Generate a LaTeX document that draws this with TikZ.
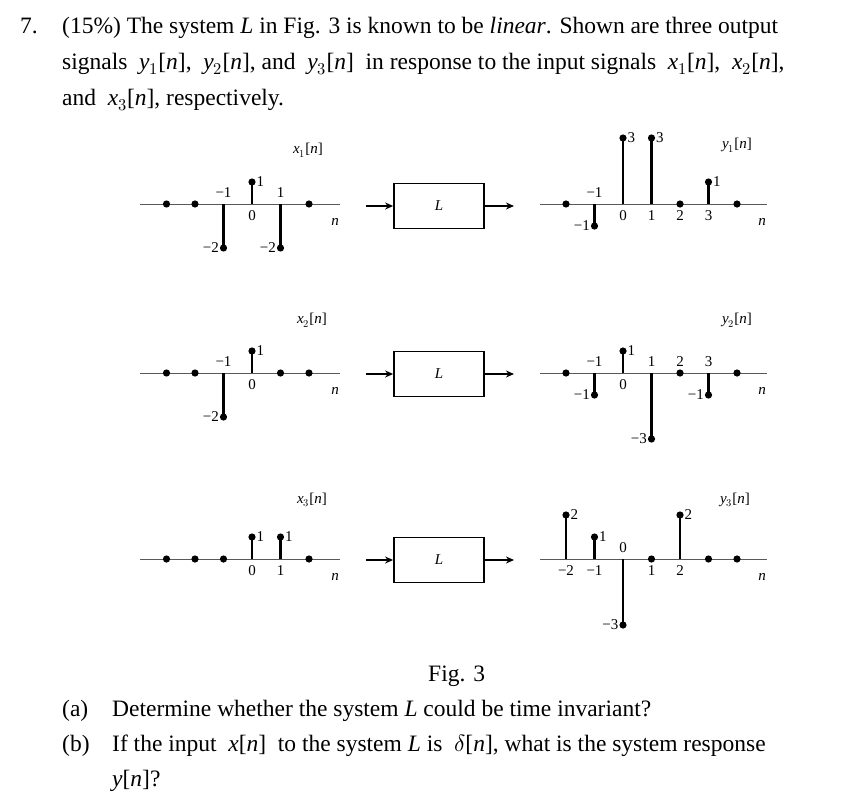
\documentclass[tikz,border=0pt]{standalone}
\usepackage{fontspec}
\setmainfont{Liberation Serif}
\usepackage{unicode-math}
\setmathfont{Latin Modern Math}
\usetikzlibrary{arrows.meta}
\tikzset{
  txt/.style={anchor=base west,inner sep=0,font=\fontsize{23.5}{26}\selectfont},
  lab/.style={inner sep=1pt,font=\fontsize{15}{16}\selectfont},
  axis/.style={line width=1pt,draw=black!65},
  stemline/.style={line width=2.2pt},
  blk/.style={draw,line width=1.8pt,minimum width=90pt,minimum height=45pt,font=\fontsize{15}{15}\selectfont\itshape},
  sarrow/.style={line width=1.6pt,-{Stealth[length=8pt,width=7pt]}}
}
\newcommand{\sn}[1]{\textit{#1}}
\newcommand{\plotsig}[3]{% x0 y0 list n/v
  \foreach \n/\v in {#3}{
    \draw[stemline] (#1+\n*28.5,#2) -- (#1+\n*28.5,#2-\v*22);
    \fill (#1+\n*28.5,#2-\v*22) circle (3.6pt);
  }}
\newcommand{\tick}[5]{% x0 y0 n text side(above/below)
  \node[lab,#5=5pt] at (#1+#3*28.5,#2) {#4};}
\newcommand{\val}[6]{% x0 y0 n v text side
  \node[lab,#6=3.5pt] at (#1+#3*28.5,#2-#4*22) {#5};}
\begin{document}
\begin{tikzpicture}[x=1pt,y=-1pt]
\useasboundingbox (0,0) rectangle (855,795);
% text
\node[txt] at (20,33) {7.};
\node[txt] at (62,33) {(15\%) The system \textit{L} in Fig. 3 is known to be \textit{linear}. Shown are three output};
\node[txt] at (62,69) {signals \ \textit{y}$_1$[\textit{n}],\ \ \textit{y}$_2$[\textit{n}], and \ \textit{y}$_3$[\textit{n}] \ in response to the input signals \ \textit{x}$_1$[\textit{n}],\ \ \textit{x}$_2$[\textit{n}],};
\node[txt] at (62,105) {and \ \textit{x}$_3$[\textit{n}], respectively.};
\node[txt] at (428,681) {Fig. 3};
\node[txt] at (62,716) {(a)};
\node[txt] at (112,716) {Determine whether the system \textit{L} could be time invariant?};
\node[txt] at (62,751) {(b)};
\node[txt] at (112,751) {If the input \ \textit{x}[\textit{n}] \ to the system \textit{L} is \ $\delta$[\textit{n}], what is the system response};
\node[txt] at (112,786) {\textit{y}[\textit{n}]?};
% row 1
\draw[axis] (140,204) -- (340,204);
\plotsig{252}{204}{-3/0,-2/0,-1/-2,0/1,1/-2,2/0}
\tick{252}{204}{-1}{−1}{above}\tick{252}{204}{0}{0}{below}\tick{252}{204}{1}{1}{above}
\val{252}{204}{0}{1}{1}{right}\val{252}{204}{-1}{-2}{−2}{left}\val{252}{204}{1}{-2}{−2}{left}
\node[lab] at (335,222) {\sn{n}};
\node[lab] (x1) at (308,150) {\sn{x}$_1$[\sn{n}]};
\node[blk] (L1) at (439,206) {L};
\coordinate (i1) at (366,206);\coordinate (o1) at (514,206);
\draw[sarrow] (i1) -- (L1.west);\draw[sarrow] (L1.east) -- (o1);
\draw[axis] (540,204) -- (767,204);
\plotsig{623}{204}{-2/0,-1/-1,0/3,1/3,2/0,3/1,4/0}
\tick{623}{204}{-1}{−1}{above}
\foreach \k in {0,1,2,3}{\tick{623}{204}{\k}{\k}{below}}
\val{623}{204}{-1}{-1}{−1}{left}\val{623}{204}{0}{3}{3}{right}\val{623}{204}{1}{3}{3}{right}\val{623}{204}{3}{1}{1}{right}
\node[lab] at (762,222) {\sn{n}};
\node[lab] (y1) at (737,145) {\sn{y}$_1$[\sn{n}]};
% row 2
\draw[axis] (140,373) -- (340,373);
\plotsig{252}{373}{-3/0,-2/0,-1/-2,0/1,1/0,2/0}
\tick{252}{373}{-1}{−1}{above}\tick{252}{373}{0}{0}{below}
\val{252}{373}{0}{1}{1}{right}\val{252}{373}{-1}{-2}{−2}{left}
\node[lab] at (335,391) {\sn{n}};
\node[lab] (x2) at (312,320) {\sn{x}$_2$[\sn{n}]};
\node[blk] (L2) at (439,374) {L};
\coordinate (i2) at (366,374);\coordinate (o2) at (514,374);
\draw[sarrow] (i2) -- (L2.west);\draw[sarrow] (L2.east) -- (o2);
\draw[axis] (540,373) -- (767,373);
\plotsig{623}{373}{-2/0,-1/-1,0/1,1/-3,2/0,3/-1,4/0}
\tick{623}{373}{-1}{−1}{above}\tick{623}{373}{0}{0}{below}
\foreach \k in {1,2,3}{\tick{623}{373}{\k}{\k}{above}}
\val{623}{373}{-1}{-1}{−1}{left}\val{623}{373}{0}{1}{1}{right}\val{623}{373}{1}{-3}{−3}{left}\val{623}{373}{3}{-1}{−1}{left}
\node[lab] at (762,391) {\sn{n}};
\node[lab] (y2) at (737,320) {\sn{y}$_2$[\sn{n}]};
% row 3
\draw[axis] (140,559) -- (340,559);
\plotsig{252}{559}{-3/0,-2/0,-1/0,0/1,1/1,2/0}
\tick{252}{559}{0}{0}{below}\tick{252}{559}{1}{1}{below}
\val{252}{559}{0}{1}{1}{right}\val{252}{559}{1}{1}{1}{right}
\node[lab] at (335,577) {\sn{n}};
\node[lab] (x3) at (312,500) {\sn{x}$_3$[\sn{n}]};
\node[blk] (L3) at (439,560) {L};
\coordinate (i3) at (366,560);\coordinate (o3) at (514,560);
\draw[sarrow] (i3) -- (L3.west);\draw[sarrow] (L3.east) -- (o3);
\draw[axis] (540,559) -- (767,559);
\plotsig{623}{559}{-2/2,-1/1,0/-3,1/0,2/2,3/0,4/0}
\tick{623}{559}{-2}{−2}{below}\tick{623}{559}{-1}{−1}{below}\tick{623}{559}{0}{0}{above}
\tick{623}{559}{1}{1}{below}\tick{623}{559}{2}{2}{below}
\val{623}{559}{-2}{2}{2}{right}\val{623}{559}{-1}{1}{1}{right}\val{623}{559}{2}{2}{2}{right}\val{623}{559}{0}{-3}{−3}{left}
\node[lab] at (762,577) {\sn{n}};
\node[lab] (y3) at (735,500) {\sn{y}$_3$[\sn{n}]};
\end{tikzpicture}
\end{document}
